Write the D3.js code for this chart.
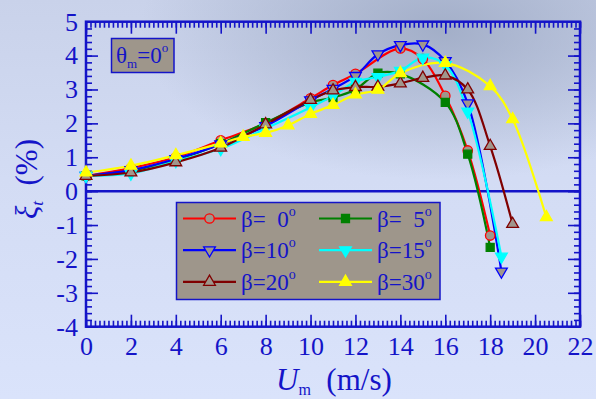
<!DOCTYPE html>
<html>
<head>
<meta charset="utf-8">
<script src="https://cdn.jsdelivr.net/npm/d3@7"></script>
<style>
  html, body { margin: 0; padding: 0; background: #d8e1f8; }
  svg { display: block; font-family: "Liberation Serif", "Times New Roman", serif; }
  text { white-space: pre; }
</style>
</head>
<body>
<svg id="chart" width="596" height="399"></svg>
<script>
// Données (Um en m/s, xi_t en %)
const xRed = [0, 2, 4, 6, 8, 10, 11, 12, 14, 15, 16, 17, 18];
const yRed = [0.45, 0.68, 1.0, 1.5, 2.0, 2.74, 3.13, 3.46, 4.21, 3.9, 2.81, 1.2, -1.31];

const xGreen = [0, 2, 4, 6, 8, 10, 11, 12, 13, 14, 16, 17, 18];
const yGreen = [0.45, 0.6, 0.92, 1.4, 2.02, 2.62, 2.76, 3.0, 3.48, 3.46, 2.62, 1.09, -1.66];

const xBlue = [0, 2, 4, 6, 8, 10, 11, 12, 13, 14, 15, 16, 17, 18.5];
const yBlue = [0.45, 0.62, 0.95, 1.38, 1.92, 2.68, 3.02, 3.4, 4.04, 4.31, 4.33, 3.84, 2.59, -2.37];

const xCyan = [0, 2, 4, 6, 8, 10, 11, 12, 13, 14, 15, 16, 17, 18.5];
const yCyan = [0.45, 0.52, 0.89, 1.25, 1.85, 2.47, 2.81, 3.23, 3.37, 3.55, 3.94, 3.72, 2.35, -1.93];

const xBrown = [0, 2, 4, 6, 8, 10, 11, 12, 13, 14, 15, 16, 17, 18, 19];
const yBrown = [0.45, 0.55, 0.85, 1.28, 1.97, 2.69, 2.97, 3.07, 3.08, 3.18, 3.34, 3.41, 3.0, 1.33, -0.97];

const xYellow = [0, 2, 4, 6, 7, 8, 9, 10, 11, 12, 13, 14, 16, 18, 19, 20.5];
const yYellow = [0.55, 0.75, 1.06, 1.41, 1.6, 1.72, 1.94, 2.28, 2.54, 2.85, 2.99, 3.48, 3.78, 3.1, 2.12, -0.77];

const betaLabels = ["β=  0", "β=  5", "β=10", "β=15", "β=20", "β=30"];
const xTicks = [0, 2, 4, 6, 8, 10, 12, 14, 16, 18, 20, 22];
const yTicks = [-4, -3, -2, -1, 0, 1, 2, 3, 4, 5];

const blue = "#1414c8";
const grayFill = "#a0968c";

// séries (ordre de tracé)
const series = [
  { label: betaLabels[0], xs: xRed, ys: yRed, color: "#ff0000", sym: d3.symbolCircle, rot: 0, fill: grayFill, size: 70, col: 0, row: 0 },
  { label: betaLabels[1], xs: xGreen, ys: yGreen, color: "#008000", sym: d3.symbolSquare, rot: 0, fill: "#008000", size: 64, col: 1, row: 0 },
  { label: betaLabels[2], xs: xBlue, ys: yBlue, color: "#0000ff", sym: d3.symbolTriangle, rot: 180, fill: grayFill, size: 60, col: 0, row: 1 },
  { label: betaLabels[3], xs: xCyan, ys: yCyan, color: "#00ffff", sym: d3.symbolTriangle, rot: 180, fill: "#00ffff", size: 60, col: 1, row: 1 },
  { label: betaLabels[4], xs: xBrown, ys: yBrown, color: "#800000", sym: d3.symbolTriangle, rot: 0, fill: grayFill, size: 60, col: 0, row: 2 },
  { label: betaLabels[5], xs: xYellow, ys: yYellow, color: "#ffff00", sym: d3.symbolTriangle, rot: 0, fill: "#ffff00", size: 60, col: 1, row: 2 }
];

const svg = d3.select("#chart");

// fond nuageux
const defs = svg.append("defs");
const lin = defs.append("linearGradient").attr("id", "bg").attr("x1", 0).attr("y1", 0).attr("x2", 0).attr("y2", 1);
lin.append("stop").attr("offset", "0%").attr("stop-color", "#c9d2ea");
lin.append("stop").attr("offset", "45%").attr("stop-color", "#d3dcf4");
lin.append("stop").attr("offset", "100%").attr("stop-color", "#dae3fb");
const rad = defs.append("radialGradient").attr("id", "cloud")
  .attr("gradientUnits", "userSpaceOnUse").attr("cx", 440).attr("cy", 30).attr("r", 300)
  .attr("gradientTransform", "translate(440,30) scale(1,0.5) translate(-440,-30)");
rad.append("stop").attr("offset", "0%").attr("stop-color", "#9eaac4").attr("stop-opacity", 0.9);
rad.append("stop").attr("offset", "100%").attr("stop-color", "#9eaac4").attr("stop-opacity", 0);
svg.append("rect").attr("width", 596).attr("height", 399).attr("fill", "url(#bg)");
svg.append("rect").attr("width", 596).attr("height", 399).attr("fill", "url(#cloud)");

const x = d3.scaleLinear().domain([0, 22]).range([86, 580]);
const y = d3.scaleLinear().domain([-4, 5]).range([326.7, 21.7]);

const minorX = d3.range(0, 22.001, 0.2);
const minorY = d3.range(-4, 5.001, 0.2);

function styleAxis(g) {
  g.select(".domain").remove();
  g.selectAll("line").attr("stroke", blue).attr("stroke-width", 1.6);
  g.selectAll("text").attr("fill", blue).style("font-size", "26px").style("font-family", "Liberation Serif, serif");
}

// axes (graduations vers l'intérieur)
svg.append("g").attr("transform", `translate(0,${y(-4)})`)
  .call(d3.axisBottom(x).tickValues(minorX).tickSize(-6).tickFormat("")).call(styleAxis);
svg.append("g").attr("transform", `translate(0,${y(-4)})`)
  .call(d3.axisBottom(x).tickValues(xTicks).tickSizeInner(-12).tickSizeOuter(0).tickPadding(10).tickFormat(d => String(d))).call(styleAxis);
svg.append("g").attr("transform", `translate(0,${y(5)})`)
  .call(d3.axisTop(x).tickValues(minorX).tickSize(-6).tickFormat("")).call(styleAxis);
svg.append("g").attr("transform", `translate(0,${y(5)})`)
  .call(d3.axisTop(x).tickValues(xTicks).tickSize(-12).tickFormat("")).call(styleAxis);
svg.append("g").attr("transform", `translate(${x(0)},0)`)
  .call(d3.axisLeft(y).tickValues(minorY).tickSize(-6).tickFormat("")).call(styleAxis);
svg.append("g").attr("transform", `translate(${x(0)},0)`)
  .call(d3.axisLeft(y).tickValues(yTicks).tickSizeInner(-12).tickSizeOuter(0).tickPadding(8).tickFormat(d => String(d))).call(styleAxis);
svg.append("g").attr("transform", `translate(${x(22)},0)`)
  .call(d3.axisRight(y).tickValues(minorY).tickSize(-6).tickFormat("")).call(styleAxis);
svg.append("g").attr("transform", `translate(${x(22)},0)`)
  .call(d3.axisRight(y).tickValues(yTicks).tickSize(-12).tickFormat("")).call(styleAxis);

// cadre + ligne zéro
svg.append("rect")
  .attr("x", x(0)).attr("y", y(5)).attr("width", x(22) - x(0)).attr("height", y(-4) - y(5))
  .attr("fill", "none").attr("stroke", blue).attr("stroke-width", 2.5);
svg.append("line")
  .attr("x1", x(0)).attr("x2", x(22)).attr("y1", y(0)).attr("y2", y(0))
  .attr("stroke", blue).attr("stroke-width", 2.5);

// courbes
const line = d3.line().x(d => x(d[0])).y(d => y(d[1])).curve(d3.curveCatmullRom.alpha(0.5));
series.forEach(s => {
  const pts = s.xs.map((v, i) => [v, s.ys[i]]);
  svg.append("path").datum(pts)
    .attr("d", line).attr("fill", "none").attr("stroke", s.color).attr("stroke-width", 2.2);
});
series.forEach(s => {
  const pts = s.xs.map((v, i) => [v, s.ys[i]]);
  svg.append("g").selectAll("path").data(pts).enter().append("path")
    .attr("d", d3.symbol().type(s.sym).size(s.size))
    .attr("transform", d => `translate(${x(d[0])},${y(d[1])}) rotate(${s.rot})`)
    .attr("fill", s.fill).attr("stroke", s.color).attr("stroke-width", 1.3);
});

// légende
const legend = svg.append("g");
legend.append("rect").attr("x", 176.5).attr("y", 202.5).attr("width", 263.5).attr("height", 97)
  .attr("fill", "#9e968b").attr("stroke", blue).attr("stroke-width", 1.5);
const colX = [183, 319];
series.forEach(s => {
  const lx = colX[s.col];
  const ly = 218.5 + s.row * 31.7;
  legend.append("line").attr("x1", lx).attr("x2", lx + 53).attr("y1", ly).attr("y2", ly)
    .attr("stroke", s.color).attr("stroke-width", 2.2);
  legend.append("path").attr("d", d3.symbol().type(s.sym).size(s.size))
    .attr("transform", `translate(${lx + 26.5},${ly}) rotate(${s.rot})`)
    .attr("fill", s.fill === grayFill ? "#9e968b" : s.fill).attr("stroke", s.color).attr("stroke-width", 1.3);
  const t = legend.append("text").attr("x", lx + 58).attr("y", ly + 8)
    .attr("fill", blue).style("font-size", "23px");
  t.append("tspan").text(s.label);
  t.append("tspan").attr("dy", -11).style("font-size", "14px").text("o");
});

// encadré θm
svg.append("rect").attr("x", 111.5).attr("y", 38.5).attr("width", 62.5).attr("height", 34)
  .attr("fill", "#9e968b").attr("stroke", blue).attr("stroke-width", 1.5);
const th = svg.append("text").attr("x", 116).attr("y", 63).attr("fill", blue).style("font-size", "23px");
th.append("tspan").text("θ");
th.append("tspan").attr("dy", 5).style("font-size", "13px").text("m");
th.append("tspan").attr("dy", -5).text("=0");
th.append("tspan").attr("dy", -11).style("font-size", "13px").text("o");

// titres des axes
const xt = svg.append("text").attr("x", 276).attr("y", 390).attr("fill", blue).style("font-size", "31px");
xt.append("tspan").style("font-style", "italic").text("U");
xt.append("tspan").attr("dy", 5).style("font-size", "16px").text("m");
xt.append("tspan").attr("dy", -5).text("  (m/s)");

const yt = svg.append("text").attr("transform", "translate(37,179) rotate(-90)")
  .attr("text-anchor", "middle").attr("fill", blue).style("font-size", "31px");
yt.append("tspan").style("font-style", "italic").text("ξ");
yt.append("tspan").attr("dy", 6).style("font-size", "17px").style("font-style", "italic").text("t");
yt.append("tspan").attr("dy", -6).text("  (%)");
</script>
</body>
</html>
